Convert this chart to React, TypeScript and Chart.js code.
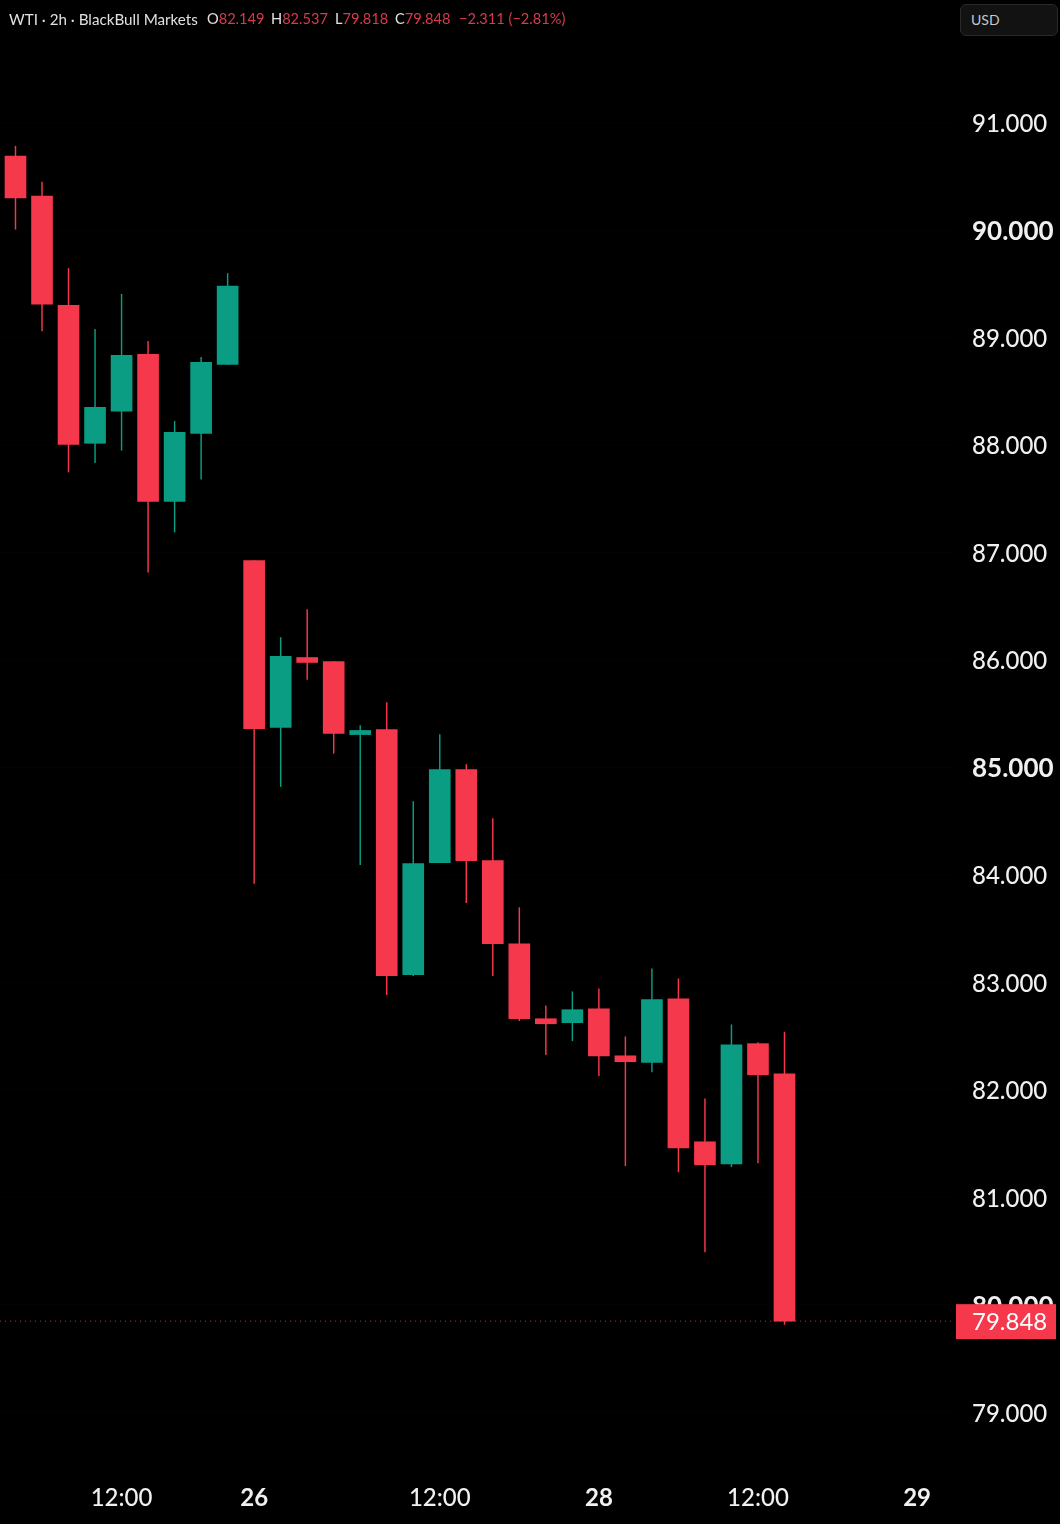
import React, { useEffect, useRef } from "react";
import { Chart, registerables } from "chart.js";

Chart.register(...registerables);

const opens = [90.688, 90.316, 89.301, 88.016, 88.314, 88.845, 87.476, 88.109, 88.751, 86.926, 85.372, 86.023, 85.986, 85.306, 85.353, 83.072, 84.115, 84.98, 84.133, 83.36, 82.662, 82.625, 82.755, 82.317, 82.255, 82.848, 81.517, 81.312, 82.43, 82.149];
const highs = [90.781, 90.446, 89.642, 89.077, 89.403, 88.966, 88.221, 88.817, 89.596, 86.926, 86.209, 86.47, 85.986, 85.39, 85.604, 84.682, 85.306, 85.027, 84.524, 83.696, 82.783, 82.913, 82.941, 82.494, 83.127, 83.034, 81.917, 82.606, 82.439, 82.537];
const lows = [90.008, 89.061, 87.749, 87.836, 87.951, 86.818, 87.19, 87.683, 88.751, 83.922, 84.822, 85.818, 85.132, 84.096, 82.885, 83.062, 84.115, 83.742, 83.062, 82.643, 82.327, 82.457, 82.131, 81.293, 82.168, 81.237, 80.492, 81.284, 81.321, 79.818];
const closes = [90.3, 89.31, 88.006, 88.351, 88.835, 87.476, 88.118, 88.77, 89.478, 85.362, 86.033, 85.977, 85.316, 85.344, 83.062, 84.105, 84.98, 84.133, 83.36, 82.662, 82.615, 82.746, 82.317, 82.262, 82.839, 81.461, 81.303, 82.42, 82.14, 79.848];

const xTickIndices = [4, 9, 16, 22, 28, 34];
const xTickLabels = ["12:00", "26", "12:00", "28", "12:00", "29"];
const boldXLabels = ["26", "28", "29"];
const yTicks = [79, 80, 81, 82, 83, 84, 85, 86, 87, 88, 89, 90, 91];
const boldYTicks = [80, 85, 90];
const lastPrice = 79.848;

const RED = "#f5384c";
const GREEN = "#0a9d84";
const TICK = "#f0f0f0";
const FONT = "Lato, sans-serif";

const headerValues = [
  { key: "O", value: "82.149", left: 207 },
  { key: "H", value: "82.537", left: 271 },
  { key: "L", value: "79.818", left: 335 },
  { key: "C", value: "79.848", left: 395 },
];

export default function App() {
  const ref = useRef<HTMLCanvasElement>(null);
  useEffect(() => {
    document.body.style.margin = "0";
    document.body.style.background = "#000";
    const colors = closes.map((c, i) => (c >= opens[i] ? GREEN : RED));
    const tagPlugin = {
      id: "lastTag",
      afterDraw(chart: any) {
        const { ctx, scales } = chart;
        const y = scales.y.getPixelForValue(lastPrice);
        ctx.save();
        ctx.fillStyle = RED;
        ctx.fillRect(956, y - 17, 100, 35);
        ctx.fillStyle = "#ffffff";
        ctx.font = `24px ${FONT}`;
        ctx.textBaseline = "middle";
        ctx.textAlign = "left";
        ctx.fillText(lastPrice.toFixed(3), 972, y + 1);
        ctx.restore();
      },
    };
    const chart = new Chart(ref.current!, {
      type: "bar",
      data: {
        datasets: [
          {
            type: "bar",
            label: "Body",
            order: 1,
            grouped: false,
            barThickness: 21,
            borderWidth: 0,
            backgroundColor: colors,
            data: opens.map((o, i) => ({ x: i, y: [o, closes[i]] })),
          },
          {
            type: "bar",
            label: "Wick",
            order: 2,
            grouped: false,
            barThickness: 0.8,
            borderWidth: 0,
            backgroundColor: colors,
            data: highs.map((h, i) => ({ x: i, y: [lows[i], h] })),
          },
          {
            type: "line",
            label: "Last",
            order: 3,
            borderColor: "rgba(247,80,60,0.8)",
            borderWidth: 1,
            borderDash: [1, 4],
            pointRadius: 0,
            data: [
              { x: -0.58, y: lastPrice },
              { x: 35.3, y: lastPrice },
            ],
          },
        ],
      } as any,
      options: {
        animation: false,
        responsive: false,
        devicePixelRatio: 1,
        layout: { padding: 0 },
        plugins: { legend: { display: false }, tooltip: { enabled: false } },
        scales: {
          x: {
            type: "linear",
            min: -0.5845,
            max: 35.43,
            offset: false,
            grid: { display: false },
            border: { display: false },
            afterBuildTicks(axis: any) {
              axis.ticks = xTickIndices.map((value) => ({ value }));
            },
            afterFit(axis: any) {
              axis.height = 54;
              axis.paddingLeft = 0;
              axis.paddingRight = 0;
            },
            ticks: {
              autoSkip: false,
              maxRotation: 0,
              padding: 6,
              color: TICK,
              callback: (v: any) => xTickLabels[xTickIndices.indexOf(Number(v))] ?? "",
              font: (ctx: any) => {
                const label = xTickLabels[xTickIndices.indexOf(ctx.tick?.value)];
                return { family: FONT, size: 24, weight: boldXLabels.includes(label) ? "bold" : "500" };
              },
            },
          },
          y: {
            type: "linear",
            position: "right",
            min: 78.463,
            max: 92.141,
            grid: { color: "rgba(255,255,255,0.012)", drawTicks: false },
            border: { display: false },
            afterBuildTicks(axis: any) {
              axis.ticks = yTicks.map((value) => ({ value }));
            },
            afterFit(axis: any) {
              axis.width = 105;
              axis.paddingTop = 0;
              axis.paddingBottom = 0;
            },
            ticks: {
              padding: 17,
              labelOffset: 1.5,
              color: TICK,
              callback: (v: any) => Number(v).toFixed(3),
              font: (ctx: any) => {
                const bold = boldYTicks.includes(ctx.tick?.value);
                return { family: FONT, size: bold ? 26 : 24, weight: bold ? "bold" : "500" };
              },
            },
          },
        },
      } as any,
      plugins: [tagPlugin],
    });
    return () => chart.destroy();
  }, []);

  const red = { color: "#d93a4c" };
  const label = { position: "absolute", top: 10, font: `14.6px ${FONT}`, color: "#e0e0e0", whiteSpace: "pre" } as const;
  return (
    <div style={{ position: "relative", width: 1060, height: 1524, background: "#000", overflow: "hidden" }}>
      <canvas ref={ref} width={1060} height={1524} style={{ position: "absolute", left: 0, top: 0, display: "block" }} />
      <div style={{ ...label, left: 9, top: 9.5, font: `15.2px ${FONT}` }}>WTI · 2h · BlackBull Markets</div>
      {headerValues.map((h) => (
        <div key={h.key} style={{ ...label, left: h.left }}>
          {h.key}
          <span style={red}>{h.value}</span>
        </div>
      ))}
      <div style={{ ...label, ...red, left: 459 }}>−2.311 (−2.81%)</div>
      <div
        style={{
          position: "absolute",
          left: 960,
          top: 4,
          width: 98,
          height: 32,
          boxSizing: "border-box",
          border: "1px solid #2a2a2a",
          borderRadius: 6,
          background: "#121212",
          color: "#c8c8c8",
          font: `14px ${FONT}`,
          lineHeight: "29px",
          paddingLeft: 10,
        }}
      >
        USD
      </div>
    </div>
  );
}
